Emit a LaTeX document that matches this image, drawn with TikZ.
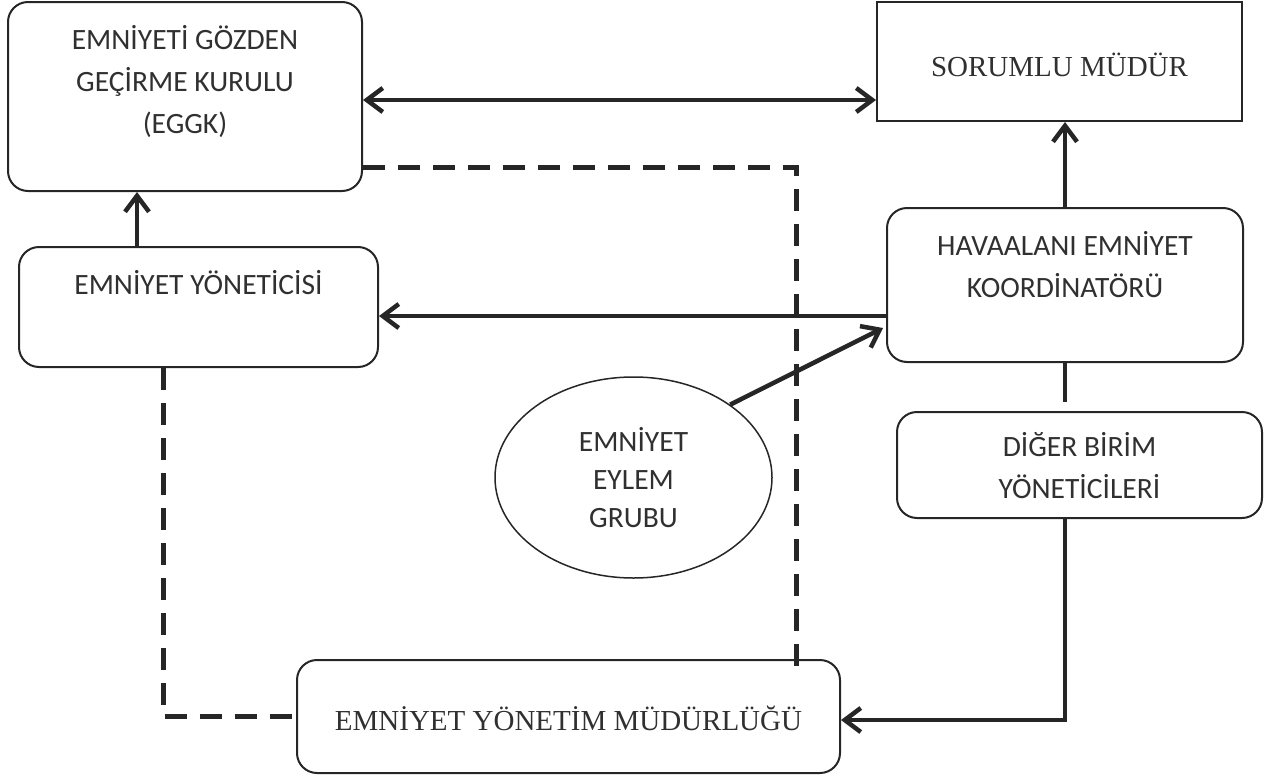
\documentclass[tikz,border=0pt]{standalone}
\usepackage{fontspec}
\setmainfont{Liberation Serif}
\newfontfamily\carlito{Carlito}
\usetikzlibrary{arrows.meta,positioning,shapes.geometric}
\definecolor{ebInk}{HTML}{262626}
\definecolor{ebText}{HTML}{303030}
\tikzset{
  >={Straight Barb[length=16pt,width=24pt]},
  rbox/.style={rounded corners=20pt, draw=ebInk, line width=2pt, text=ebText,
               align=center, inner xsep=4pt, inner ysep=0pt,
               font=\carlito\fontsize{29.5}{42}\selectfont},
  sbox/.style={rbox, rounded corners=0pt, font=\fontsize{29}{36}\selectfont},
  tbox/.style={rbox, font=\fontsize{29}{36}\selectfont},
  group/.style={ellipse, draw=ebInk, line width=1.5pt, text=ebText, align=center,
               inner sep=0pt, font=\carlito\fontsize{29.5}{38}\selectfont},
  flow/.style={draw=ebInk, line width=4.5pt},
  dline/.style={draw=ebInk, line width=5pt, dash pattern=on 22pt off 13pt},
}
\begin{document}
\begin{tikzpicture}[x=1pt,y=-1pt]
  \useasboundingbox (0,0) rectangle (1266,779);
  \node[rbox, minimum width=354pt, text height=131pt, text depth=58pt] (eggk) at (185,96.5)
    {EMNİYETİ GÖZDEN\\GEÇİRME KURULU\\(EGGK)};
  \node[sbox, minimum width=365pt, text height=74pt, text depth=45pt] (smd) at (1059.5,61.5)
    {SORUMLU MÜDÜR};
  \node[rbox, minimum width=359pt, text height=47pt, text depth=73pt] (eyon) at (198.5,307)
    {EMNİYET YÖNETİCİSİ};
  \node[rbox, minimum width=356pt, text height=89pt, text depth=65pt] (hek) at (1065,285)
    {HAVAALANI EMNİYET\\KOORDİNATÖRÜ};
  \node[rbox, minimum width=365pt, text height=86pt, text depth=20pt] (dby) at (1079.5,465)
    {DİĞER BİRİM\\YÖNETİCİLERİ};
  \node[tbox, minimum width=543pt, text height=70pt, text depth=43pt] (eym) at (568.5,716.5)
    {EMNİYET YÖNETİM MÜDÜRLÜĞÜ};
  \node[group, minimum width=277pt, minimum height=201pt] (eeg) at (633.5,477.5)
    {EMNİYET\\EYLEM\\GRUBU};

  % solid links
  \draw[flow,<->] ([yshift=-3.5pt]eggk.east) -- ([yshift=-3.5pt]eggk.east -| smd.west);
  \draw[flow,->] ([xshift=-61.5pt]eyon.north) -- ([xshift=-61.5pt]eyon.north |- eggk.south);
  \draw[flow,->] (hek.north) -- (hek.north |- smd.south);
  \draw[flow,->] ([yshift=-31pt]hek.west) -- ([yshift=-31pt]hek.west -| eyon.east);
  \draw[flow,->] (eeg.37.5) -- ([xshift=-3pt,yshift=-43pt]hek.west);
  \draw[flow] (hek.south) -- ([yshift=9pt]dby.north -| hek.south);
  \draw[flow,->] (dby.south -| hek.south) |- ([yshift=-3.5pt]eym.east);

  % dashed links
  \draw[dline] ([yshift=-70.5pt]eggk.east) -| ([xshift=227.5pt,yshift=-10pt]eym.north);
  \draw[dline] ([xshift=-35.5pt]eyon.south) |- (eym.west);
\end{tikzpicture}
\end{document}
